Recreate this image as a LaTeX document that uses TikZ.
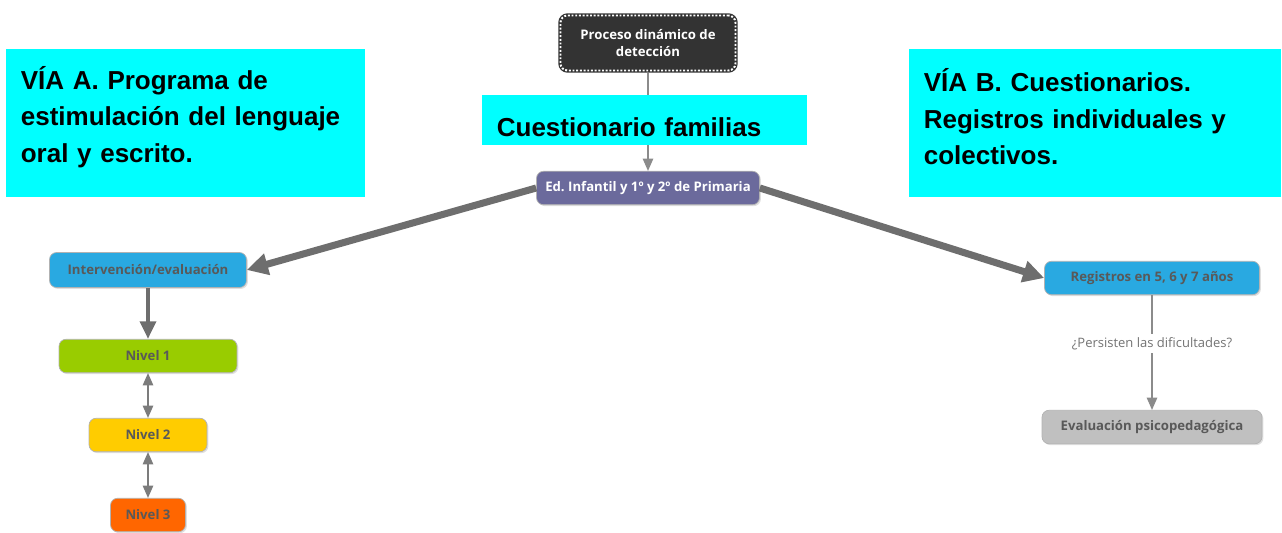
\documentclass[tikz,border=0pt]{standalone}
\usepackage{fontspec}
\setmainfont{Liberation Sans}
\newfontfamily\cmapfont{Open Sans}
\usetikzlibrary{positioning,arrows.meta,shadows}
\frenchspacing

\definecolor{notecyan}{HTML}{00FFFF}
\definecolor{procdark}{HTML}{333333}
\definecolor{edpurple}{HTML}{6B6A9C}
\definecolor{stepblue}{HTML}{29A9E1}
\definecolor{lvlgreen}{HTML}{99CC00}
\definecolor{lvlyellow}{HTML}{FFCC00}
\definecolor{lvlorange}{HTML}{FF6600}
\definecolor{evalgray}{HTML}{C0C0C0}
\definecolor{linkgray}{HTML}{6E6E6E}

\begin{document}
\begin{tikzpicture}[x=0.02cm,y=-0.02cm,
  concept/.style={rounded corners=4pt, draw=black!30, text=black!65,
    font=\cmapfont\bfseries\fontsize{7.5}{9.5}\selectfont, inner sep=2pt,
    minimum height=0.67cm,
    drop shadow={opacity=0.25, shadow xshift=0.8pt, shadow yshift=-0.8pt}},
  note/.style={fill=notecyan, align=left, anchor=north west, inner xsep=0.29cm,
    font=\bfseries\fontsize{14.8}{20.8}\selectfont},
  thinlink/.style={-{Triangle[length=7pt,width=6pt]}, linkgray!80, line width=0.6pt},
  duallink/.style={{Triangle[length=7pt,width=6pt]}-{Triangle[length=7pt,width=6pt]}, linkgray!90, line width=0.6pt},
  midlink/.style={-{Triangle[length=10pt,width=9pt]}, linkgray, line width=2.3pt},
  thicklink/.style={-{Triangle[length=12pt,width=12pt]}, linkgray, line width=4pt}]

\useasboundingbox (0,0) rectangle (1282,533);

\node[concept, fill=procdark, text=white, draw=procdark, line width=2.5pt,
      postaction={draw=white, densely dotted, line width=1.1pt},
      minimum width=3.5cm, minimum height=1.1cm, align=center] (proc) at (648,43)
      {Proceso din\'amico de\\detecci\'on};
\node[concept, fill=edpurple, text=white, minimum width=4.46cm] (ed) at (648,188)
      {Ed. Infantil y 1º y 2º de Primaria};

\node[concept, fill=stepblue, minimum width=3.94cm, minimum height=0.7cm] (interv) at (148,270)
      {Intervenci\'on/evaluaci\'on};
\node[concept, fill=lvlgreen, minimum width=3.56cm] (n1) at (148,356) {Nivel 1};
\node[concept, fill=lvlyellow, minimum width=2.36cm] (n2) at (148,435) {Nivel 2};
\node[concept, fill=lvlorange, minimum width=1.5cm] (n3) at (148,515) {Nivel 3};

\node[concept, fill=stepblue, minimum width=4.3cm] (reg) at (1152,278)
      {Registros en 5, 6 y 7 a\~nos};
\node[concept, fill=evalgray, minimum width=4.4cm] (psico) at (1152,427)
      {Evaluaci\'on psicopedag\'ogica};

\draw[thinlink] (proc) -- (ed);
\draw[thicklink] (ed.west) -- (interv.east);
\draw[thicklink] (ed.east) -- (reg.west);
\draw[midlink] (interv) -- (n1);
\draw[duallink] (n1) -- (n2);
\draw[duallink] (n2) -- (n3);
\draw[thinlink] (reg) -- node[pos=0.42, fill=white, text=black!55, inner sep=2pt,
      font=\cmapfont\fontsize{7.4}{9}\selectfont] {¿Persisten las dificultades?} (psico);

% notas de las dos vias
\node[note, text width=6.6cm, minimum height=2.96cm] (viaA) at (6,49)
      {V\'IA A. Programa de\\estimulaci\'on del lenguaje\\oral y escrito.\par
       \vspace{0.26cm}\hrule height 0pt width 0pt};
\node[note, text width=6.86cm, minimum height=2.96cm] (viaB) at (909,49)
      {V\'IA B. Cuestionarios.\\Registros individuales y\\colectivos.\par
       \vspace{0.26cm}\hrule height 0pt width 0pt};
\node[note, text width=5.92cm, minimum height=1cm] (fam) at (482,95)
      {\hrule height 0pt width 0pt\vspace{0.28cm}Cuestionario familias};
\end{tikzpicture}
\end{document}
